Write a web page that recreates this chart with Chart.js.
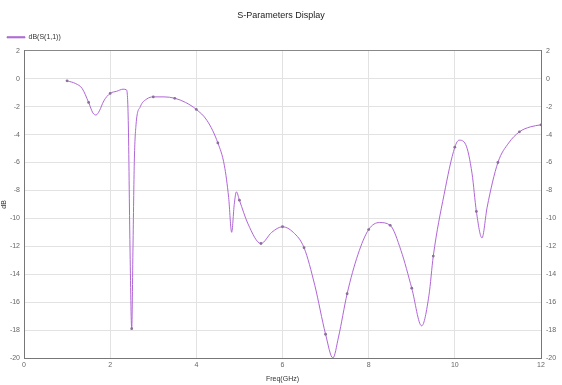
<!DOCTYPE html>
<html>
<head>
<meta charset="utf-8">
<script src="https://cdn.jsdelivr.net/npm/chart.js@4"></script>
<style>
  html, body { margin: 0; padding: 0; background: #fff; }
  #wrap { width: 562px; height: 385px; }
</style>
</head>
<body>
<div id="wrap"><canvas id="chart" width="562" height="385"></canvas></div>
<script>
// frequency (GHz) and S11 magnitude (dB)
const freqGHz = [1.0, 1.2, 1.35, 1.5, 1.6, 1.67, 1.75, 1.85, 2.0, 2.15, 2.3, 2.38, 2.42, 2.46, 2.5, 2.53, 2.56, 2.6, 2.7, 2.85,
  3.0, 3.25, 3.5, 3.75, 4.0, 4.25, 4.5, 4.65, 4.75, 4.82, 4.88, 4.93, 5.0, 5.2, 5.5, 5.75, 6.0, 6.25, 6.5, 6.75,
  7.0, 7.17, 7.3, 7.5, 7.75, 8.0, 8.25, 8.5, 8.75, 9.0, 9.23, 9.4, 9.5, 9.75, 10.0, 10.1, 10.25, 10.4, 10.5, 10.63,
  10.75, 11.0, 11.25, 11.5, 11.75, 12.0];
const s11dB = [-0.15, -0.35, -0.7, -1.7, -2.45, -2.6, -2.3, -1.6, -1.05, -0.9, -0.75, -0.8, -3.0, -12, -17.9, -12, -6, -3.3, -2.0, -1.45,
  -1.3, -1.3, -1.4, -1.7, -2.2, -3.0, -4.6, -6.2, -8.5, -11.0, -9.0, -8.1, -8.7, -10.4, -11.8, -11.0, -10.6, -11.0, -12.1, -14.8,
  -18.3, -20, -18.5, -15.4, -12.6, -10.8, -10.3, -10.5, -12.3, -15.0, -17.7, -15.5, -12.7, -8.3, -4.9, -4.4, -4.7, -6.8, -9.5, -11.4,
  -9.2, -6.0, -4.6, -3.8, -3.45, -3.3];
const xTicks = [0, 2, 4, 6, 8, 10, 12];
const yTicks = [2, 0, -2, -4, -6, -8, -10, -12, -14, -16, -18, -20];

const points = freqGHz.map((f, i) => ({ x: f, y: s11dB[i] }));
const tickFont = { family: "Liberation Sans", size: 7 };

new Chart(document.getElementById("chart"), {
  type: "line",
  data: {
    datasets: [{
      label: "dB(S(1,1))",
      data: points,
      borderColor: "#b066d6",
      borderWidth: 1,
      backgroundColor: "#8a7098",
      pointBorderWidth: 0,
      // markers only every 0.5 GHz, like the original
      pointRadius: ctx => (Math.abs(ctx.raw.x * 2 - Math.round(ctx.raw.x * 2)) < 1e-6 ? 1.4 : 0),
      cubicInterpolationMode: "monotone",
      fill: false
    }]
  },
  options: {
    responsive: false,
    animation: false,
    layout: { padding: { top: 7, left: 0, right: 0, bottom: 2 } },
    plugins: {
      title: {
        display: true,
        text: "S-Parameters Display",
        color: "#222",
        font: { family: "Liberation Sans", size: 9, weight: "normal" },
        padding: { top: 3, bottom: 6 }
      },
      legend: {
        display: true,
        align: "start",
        labels: {
          color: "#333",
          font: { family: "Liberation Sans", size: 7 },
          boxWidth: 18,
          boxHeight: 1,
          padding: 7
        }
      },
      tooltip: { enabled: false }
    },
    scales: {
      x: {
        type: "linear",
        min: 0,
        max: 12,
        afterBuildTicks: s => { s.ticks = xTicks.map(v => ({ value: v })); },
        afterFit: s => { s.height = 25; },
        ticks: { color: "#666", font: tickFont, padding: 3, maxRotation: 0 },
        grid: { color: "#e2e2e2", drawTicks: false },
        border: { color: "#777" },
        title: { display: true, text: "Freq(GHz)", color: "#333", font: { family: "Liberation Sans", size: 7 }, padding: 0 }
      },
      y: {
        min: -20,
        max: 2,
        afterBuildTicks: s => { s.ticks = yTicks.map(v => ({ value: v })); },
        afterFit: s => { s.width = 24; },
        ticks: { color: "#666", font: tickFont, padding: 4 },
        grid: { color: ctx => (ctx.tick && ctx.tick.value === 2 ? "#888" : "#e2e2e2"), drawTicks: false },
        border: { color: "#777" },
        title: { display: true, text: "dB", color: "#333", font: { family: "Liberation Sans", size: 7 }, padding: 0 }
      },
      y2: {
        position: "right",
        min: -20,
        max: 2,
        afterBuildTicks: s => { s.ticks = yTicks.map(v => ({ value: v })); },
        afterFit: s => { s.width = 21; },
        ticks: { color: "#666", font: tickFont, padding: 5 },
        grid: { display: false, drawTicks: false },
        border: { color: "#777" }
      }
    }
  }
});
</script>
</body>
</html>
